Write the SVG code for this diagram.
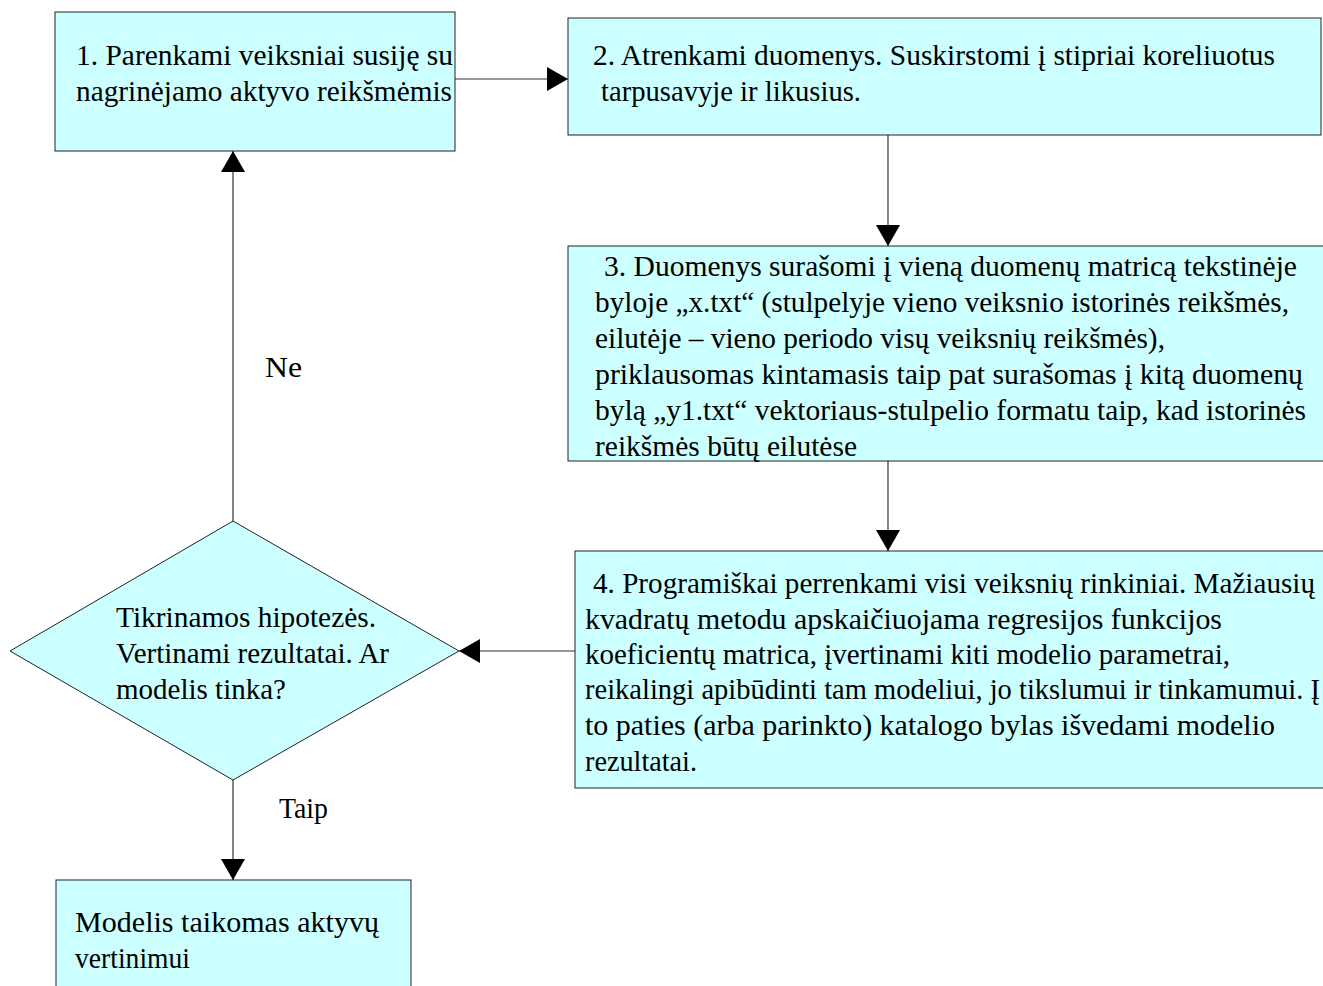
<svg xmlns="http://www.w3.org/2000/svg" width="1323" height="986" viewBox="0 0 1323 986">
<style>
.box{fill:#ccffff;stroke:#222;stroke-width:1}
.t{font-family:"Liberation Serif","Times New Roman",serif;font-size:30px;fill:#000}
.c{fill:none;stroke:#333;stroke-width:1.2}
</style>
<defs>
<marker id="ah" markerUnits="userSpaceOnUse" markerWidth="24" markerHeight="26" refX="21" refY="12" orient="auto">
<path d="M0,0 L21,12 L0,24 Z" fill="#000"/>
</marker>
</defs>
<rect width="1323" height="986" fill="#fff"/>
<g id="connectors">
<line class="c" x1="455" y1="79" x2="568" y2="79" marker-end="url(#ah)"/>
<line class="c" x1="888" y1="135" x2="888" y2="246" marker-end="url(#ah)"/>
<line class="c" x1="888" y1="461" x2="888" y2="551" marker-end="url(#ah)"/>
<line class="c" x1="575" y1="651" x2="459" y2="651" marker-end="url(#ah)"/>
<line class="c" x1="233" y1="521" x2="233" y2="151" marker-end="url(#ah)"/>
<line class="c" x1="233" y1="780" x2="233" y2="880" marker-end="url(#ah)"/>
<text class="t" x="265" y="377" textLength="37" lengthAdjust="spacingAndGlyphs">Ne</text>
<text class="t" x="279" y="818" textLength="49" lengthAdjust="spacingAndGlyphs">Taip</text>
</g>
<g id="n1">
<rect class="box" x="55" y="12" width="400" height="139"/>
<text class="t" x="76" y="65" textLength="377" lengthAdjust="spacingAndGlyphs">1. Parenkami veiksniai susiję su</text>
<text class="t" x="76" y="101" textLength="376" lengthAdjust="spacingAndGlyphs">nagrinėjamo aktyvo reikšmėmis</text>
</g>
<g id="n2">
<rect class="box" x="568" y="18" width="753" height="117"/>
<text class="t" x="593" y="65" textLength="682" lengthAdjust="spacingAndGlyphs">2. Atrenkami duomenys. Suskirstomi į stipriai koreliuotus</text>
<text class="t" x="601" y="101" textLength="260" lengthAdjust="spacingAndGlyphs">tarpusavyje ir likusius.</text>
</g>
<g id="n3">
<rect class="box" x="568" y="246" width="760" height="215"/>
<text class="t" x="604" y="276" textLength="693" lengthAdjust="spacingAndGlyphs">3. Duomenys surašomi į vieną duomenų matricą tekstinėje</text>
<text class="t" x="595" y="312" textLength="694" lengthAdjust="spacingAndGlyphs">byloje „x.txt“ (stulpelyje vieno veiksnio istorinės reikšmės,</text>
<text class="t" x="595" y="348" textLength="570" lengthAdjust="spacingAndGlyphs">eilutėje – vieno periodo visų veiksnių reikšmės),</text>
<text class="t" x="595" y="384" textLength="708" lengthAdjust="spacingAndGlyphs">priklausomas kintamasis taip pat surašomas į kitą duomenų</text>
<text class="t" x="595" y="420" textLength="711" lengthAdjust="spacingAndGlyphs">bylą „y1.txt“ vektoriaus-stulpelio formatu taip, kad istorinės</text>
<text class="t" x="595" y="456" textLength="262" lengthAdjust="spacingAndGlyphs">reikšmės būtų eilutėse</text>
</g>
<g id="n4">
<rect class="box" x="575" y="551" width="753" height="237"/>
<text class="t" x="593" y="593" textLength="722" lengthAdjust="spacingAndGlyphs">4. Programiškai perrenkami visi veiksnių rinkiniai. Mažiausių</text>
<text class="t" x="585" y="629" textLength="637" lengthAdjust="spacingAndGlyphs">kvadratų metodu apskaičiuojama regresijos funkcijos</text>
<text class="t" x="585" y="664" textLength="645" lengthAdjust="spacingAndGlyphs">koeficientų matrica, įvertinami kiti modelio parametrai,</text>
<text class="t" x="585" y="699" textLength="735" lengthAdjust="spacingAndGlyphs">reikalingi apibūdinti tam modeliui, jo tikslumui ir tinkamumui. Į</text>
<text class="t" x="585" y="735" textLength="690" lengthAdjust="spacingAndGlyphs">to paties (arba parinkto) katalogo bylas išvedami modelio</text>
<text class="t" x="585" y="771" textLength="112" lengthAdjust="spacingAndGlyphs">rezultatai.</text>
</g>
<g id="decision">
<polygon class="box" points="233,521 459,651 233,780 10,651"/>
<text class="t" x="116" y="627" textLength="260" lengthAdjust="spacingAndGlyphs">Tikrinamos hipotezės.</text>
<text class="t" x="116" y="663" textLength="273" lengthAdjust="spacingAndGlyphs">Vertinami rezultatai. Ar</text>
<text class="t" x="116" y="699" textLength="170" lengthAdjust="spacingAndGlyphs">modelis tinka?</text>
</g>
<g id="n5">
<rect class="box" x="56" y="880" width="355" height="120"/>
<text class="t" x="75" y="932" textLength="304" lengthAdjust="spacingAndGlyphs">Modelis taikomas aktyvų</text>
<text class="t" x="75" y="968" textLength="115" lengthAdjust="spacingAndGlyphs">vertinimui</text>
</g>
</svg>
